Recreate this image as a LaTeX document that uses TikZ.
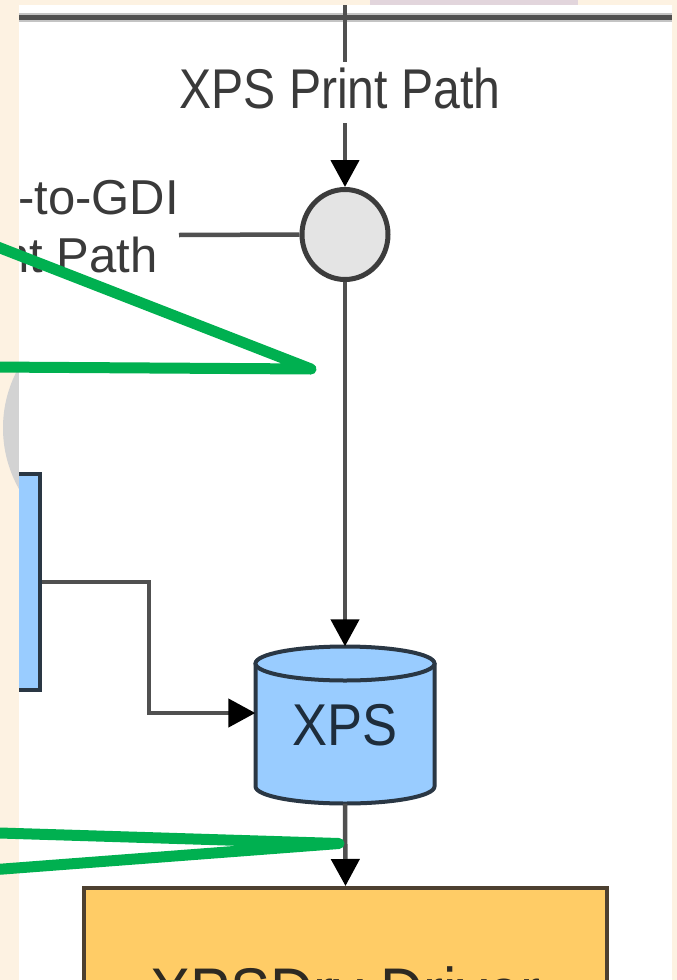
\documentclass[tikz,border=0pt]{standalone}
\usepackage{fontspec}
\usepackage{graphicx}
\setmainfont{Liberation Sans}
\usetikzlibrary{arrows.meta,shapes.geometric}
\definecolor{cream}{HTML}{FDF2E2}
\definecolor{pinkish}{HTML}{E2D5DC}
\definecolor{arcgray}{HTML}{D3D3D3}
\definecolor{linegray}{HTML}{505050}
\definecolor{halogray}{HTML}{C4C4C4}
\definecolor{bluefill}{HTML}{99CCFF}
\definecolor{blueedge}{HTML}{2A3744}
\definecolor{orangefill}{HTML}{FFCC66}
\definecolor{orangeedge}{HTML}{4D4030}
\definecolor{circfill}{HTML}{E4E4E4}
\definecolor{circedge}{HTML}{3C3C3C}
\definecolor{txtgray}{HTML}{3A3A3A}
\definecolor{xpstxt}{HTML}{1E2D3C}
\definecolor{drvtxt}{HTML}{2E2A22}
\definecolor{mygreen}{HTML}{00B050}
\begin{document}
\begin{tikzpicture}[x=1pt,y=-1pt,
  conn/.style={draw=linegray,line width=4.5pt},
  tipx/.style={-{Triangle[width=28pt,length=27pt,color=black]}},
  lbl/.style={text=txtgray,inner sep=0pt},
  greenline/.style={draw=mygreen,line width=11pt,line cap=round,line join=round}]
\useasboundingbox (0,0) rectangle (677,980);
% background
\fill[cream] (0,0) rectangle (677,980);
\fill[arcgray] (127,428) circle[radius=124];
\fill[pinkish] (370,0) rectangle (578,5);
\fill[white] (19,5) rectangle (672,980);
\begin{scope}
\clip (19,5) rectangle (672,980);
% top rule
\draw[halogray,line width=9pt] (19,17.5) -- (672,17.5);
\draw[linegray,line width=5pt] (19,17.5) -- (672,17.5);
% junction circle
\node[ellipse,draw=circedge,fill=circfill,line width=5pt,minimum width=86pt,minimum height=90pt,inner sep=0pt] (circ) at (345,234.5) {};
% title
\node[lbl,font=\fontsize{56}{60}\selectfont] (title) at (340,88) {\scalebox{0.86}[1]{XPS Print Path}};
\coordinate (ptop) at (345,5);
\coordinate (pmid) at (345,62);
\coordinate (pbot) at (345,123);
\draw[conn] (ptop) -- (pmid);
\draw[conn,tipx] (pbot) -- (circ.north);
% left label
\node[lbl,anchor=base east,font=\fontsize{49}{55}\selectfont] (gdi1) at (179,214) {XPS-to-GDI};
\node[lbl,anchor=base east,font=\fontsize{49}{55}\selectfont] (gdi2) at (158,272) {Print Path};
\coordinate (gdiend) at (179,235);
\draw[conn] (gdiend) -- (circ.west);
% cylinder body
\filldraw[fill=bluefill,draw=blueedge,line width=4pt,line join=round]
  (255.5,663.5) -- (255.5,786.5)
  .. controls (255.5,795.9) and (295.6,803.5) .. (345,803.5)
  .. controls (394.4,803.5) and (434.5,795.9) .. (434.5,786.5)
  -- (434.5,663.5) -- cycle;
\filldraw[fill=bluefill,draw=blueedge,line width=4pt] (345,663.5) ellipse [x radius=89.5, y radius=17];
\node[inner sep=0pt,minimum width=179pt,minimum height=157pt,text=xpstxt,font=\fontsize{59}{60}\selectfont] (xps) at (345,725) {\scalebox{0.89}[1]{XPS}};
% left box
\node[draw=blueedge,fill=bluefill,line width=4pt,minimum width=80pt,minimum height=216pt,inner sep=0pt] (lbox) at (0,582) {};
\coordinate (bend) at (149,713);
\draw[conn,tipx] (lbox.east) -| (bend) -- (bend -| xps.west);
% vertical connector
\draw[conn,tipx] (circ.south) -- (xps.north);
% driver box
\node[draw=orangeedge,fill=orangefill,line width=4pt,minimum width=523pt,minimum height=206pt,inner sep=0pt,text=drvtxt,font=\fontsize{66}{70}\selectfont] (drv) at (345.5,991) {\scalebox{0.91}[1]{XPSDrv Driver}};
\draw[conn,tipx] (xps.south) -- (drv.north);
\end{scope}
% green annotation lines
\coordinate (g1a) at (-10,244);
\coordinate (g1b) at (311,369);
\coordinate (g1c) at (-10,367);
\draw[greenline] (g1a) -- (g1b) -- (g1c);
\coordinate (g2a) at (-10,832.7);
\coordinate (g2b) at (339,843.5);
\coordinate (g2c) at (-10,870);
\draw[greenline] (g2a) -- (g2b) -- (g2c);
\end{tikzpicture}
\end{document}
